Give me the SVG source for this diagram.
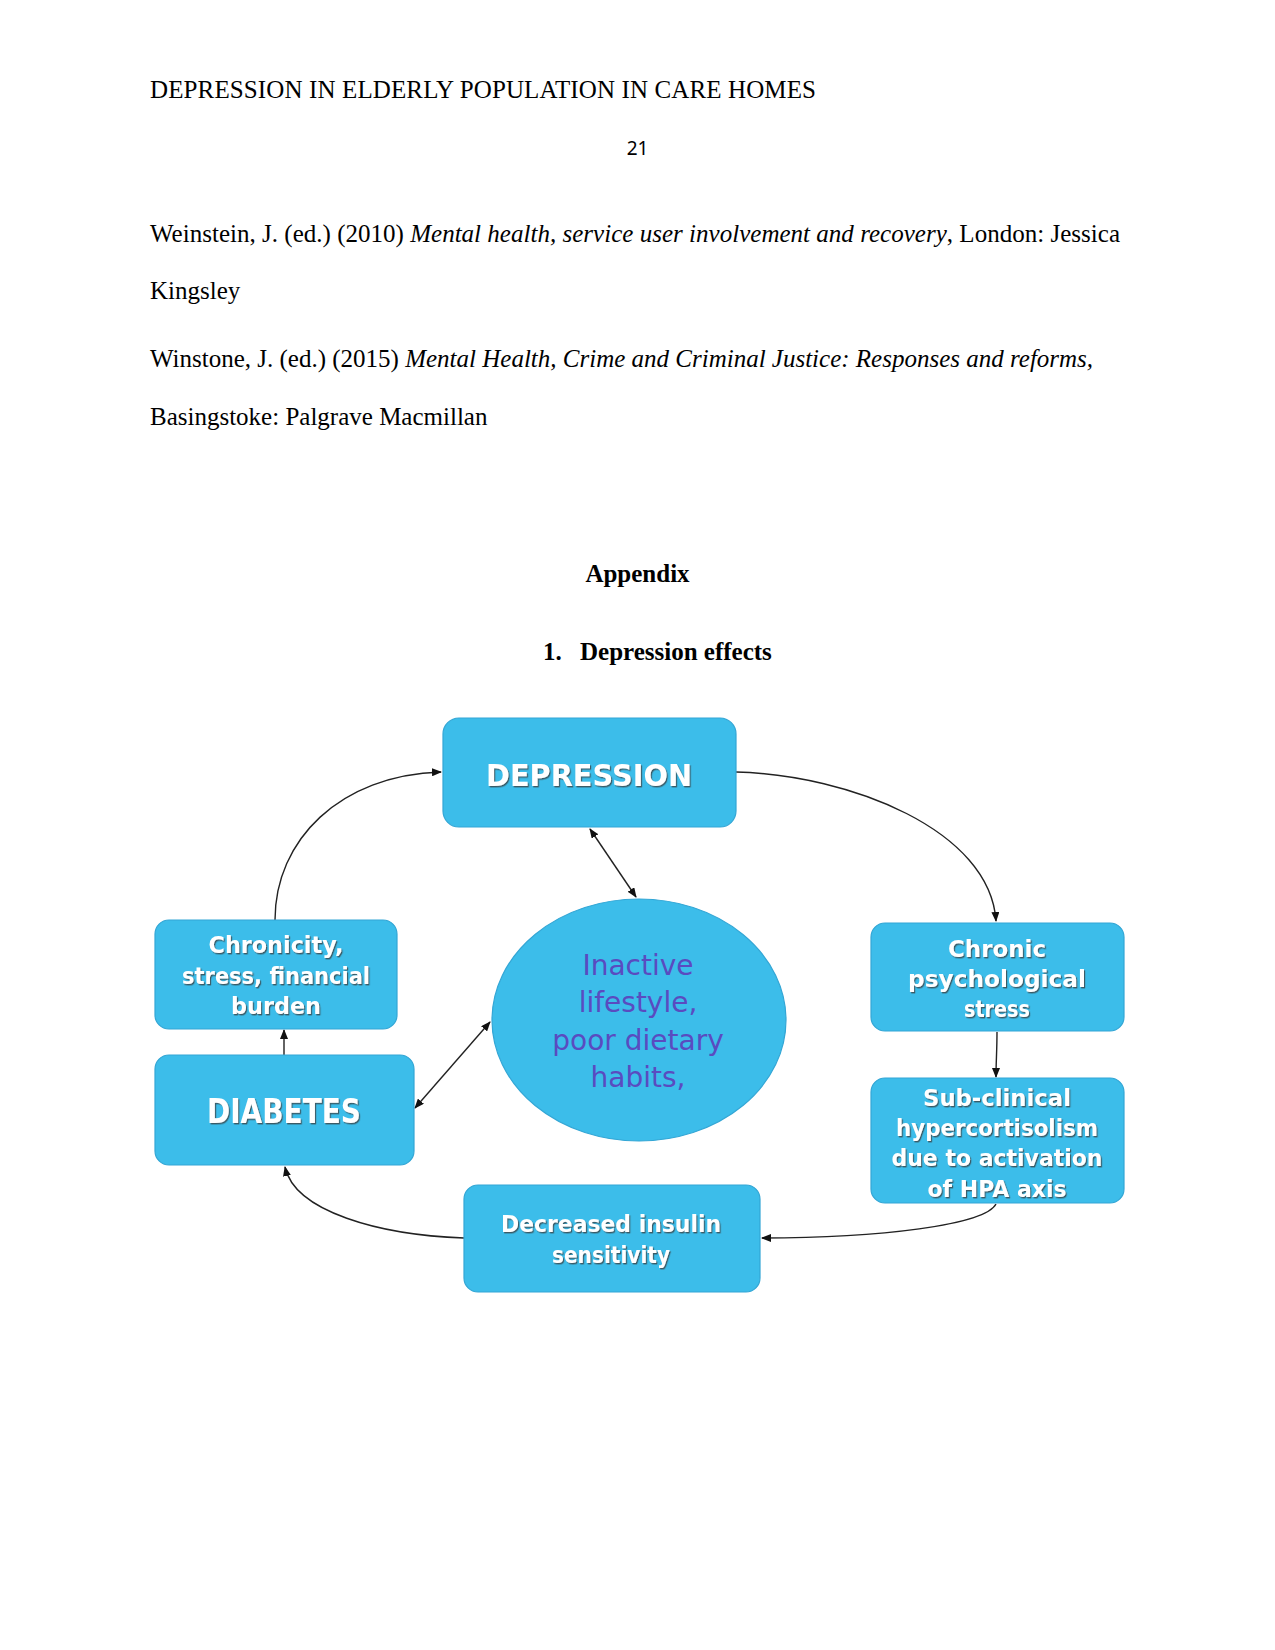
<svg xmlns="http://www.w3.org/2000/svg" width="1275" height="1650" viewBox="0 0 1275 1650">
<style>
.body{font-family:"Liberation Serif","Times New Roman",serif;font-size:25px;fill:#000}
.it{font-style:italic}
.hd{font-family:"Liberation Serif","Times New Roman",serif;font-size:25px;font-weight:bold;fill:#000}
.box{fill:#3CBDEA;stroke:#33A6D5;stroke-width:1.2}
.lbl{font-family:"DejaVu Sans","Liberation Sans",sans-serif;font-weight:bold;fill:#FFFFFF;text-anchor:middle;filter:url(#sh)}
.oval{font-family:"DejaVu Sans","Liberation Sans",sans-serif;font-size:28px;fill:#5A4BC0;text-anchor:middle}
.con{fill:none;stroke:#222;stroke-width:1.4}
</style>
<defs>
<filter id="sh" x="-10%" y="-30%" width="120%" height="160%">
<feDropShadow dx="1.2" dy="1.4" stdDeviation="0.6" flood-color="#3a3a3a" flood-opacity="0.75"/>
</filter>
<marker id="ah" markerUnits="userSpaceOnUse" markerWidth="10" markerHeight="8" refX="9" refY="4" orient="auto-start-reverse" viewBox="0 0 10 8">
<path d="M0,0 L10,4 L0,8 z" fill="#111"/>
</marker>
</defs>
<rect width="1275" height="1650" fill="#FFFFFF"/>

<g id="page-text">
<text class="body" x="150" y="98" textLength="666">DEPRESSION IN ELDERLY POPULATION IN CARE HOMES</text>
<text x="637.5" y="155" font-family="'Noto Sans','Open Sans',sans-serif" font-size="19" text-anchor="middle" fill="#000">21</text>
<text class="body" x="150" y="242" textLength="970">Weinstein, J. (ed.) (2010) <tspan class="it">Mental health, service user involvement and recovery</tspan>, London: Jessica</text>
<text class="body" x="150" y="299">Kingsley</text>
<text class="body" x="150" y="367">Winstone, J. (ed.) (2015) <tspan class="it">Mental Health, Crime and Criminal Justice: Responses and reforms,</tspan></text>
<text class="body" x="150" y="425">Basingstoke: Palgrave Macmillan</text>
<text class="hd" x="637.5" y="582" text-anchor="middle">Appendix</text>
<text class="hd" x="543" y="660">1.</text>
<text class="hd" x="580" y="660">Depression effects</text>
</g>

<g id="connectors">
<path class="con" d="M275,920 C275,840 340,775 441,772" marker-end="url(#ah)"/>
<path class="con" d="M736,772 C850,775 990,830 996,921" marker-end="url(#ah)"/>
<path class="con" d="M590,829 L636,897" marker-start="url(#ah)" marker-end="url(#ah)"/>
<path class="con" d="M997,1032 C997,1050 996,1062 996,1077" marker-end="url(#ah)"/>
<path class="con" d="M996,1204 C985,1225 880,1238 762,1238" marker-end="url(#ah)"/>
<path class="con" d="M464,1238 C380,1235 295,1212 285,1167" marker-end="url(#ah)"/>
<path class="con" d="M284,1055 L284,1030" marker-end="url(#ah)"/>
<path class="con" d="M415,1108 L490,1022" marker-start="url(#ah)" marker-end="url(#ah)"/>
</g>

<g id="node-depression">
<rect class="box" x="443" y="718" width="293" height="109" rx="16"/>
<text class="lbl" x="589" y="786" font-size="31" textLength="206" lengthAdjust="spacingAndGlyphs">DEPRESSION</text>
</g>

<g id="node-chronicity">
<rect class="box" x="155" y="920" width="242" height="109" rx="14"/>
<text class="lbl" x="276" y="953" font-size="23" textLength="135" lengthAdjust="spacingAndGlyphs">Chronicity,</text>
<text class="lbl" x="276" y="984" font-size="23" textLength="188" lengthAdjust="spacingAndGlyphs">stress, financial</text>
<text class="lbl" x="276" y="1014" font-size="23" textLength="90" lengthAdjust="spacingAndGlyphs">burden</text>
</g>

<g id="node-lifestyle">
<ellipse class="box" cx="639" cy="1020" rx="147" ry="121"/>
<text class="oval" x="638" y="975">Inactive</text>
<text class="oval" x="638" y="1012">lifestyle,</text>
<text class="oval" x="638" y="1050">poor dietary</text>
<text class="oval" x="638" y="1087">habits,</text>
</g>

<g id="node-chronic-stress">
<rect class="box" x="871" y="923" width="253" height="108" rx="14"/>
<text class="lbl" x="997" y="957" font-size="23" textLength="98" lengthAdjust="spacingAndGlyphs">Chronic</text>
<text class="lbl" x="997" y="987" font-size="23" textLength="178" lengthAdjust="spacingAndGlyphs">psychological</text>
<text class="lbl" x="997" y="1017" font-size="23" textLength="66" lengthAdjust="spacingAndGlyphs">stress</text>
</g>

<g id="node-diabetes">
<rect class="box" x="155" y="1055" width="259" height="110" rx="14"/>
<text class="lbl" x="284" y="1123" font-size="33" textLength="154" lengthAdjust="spacingAndGlyphs">DIABETES</text>
</g>

<g id="node-hypercortisolism">
<rect class="box" x="871" y="1078" width="253" height="125" rx="14"/>
<text class="lbl" x="997" y="1106" font-size="23" textLength="148" lengthAdjust="spacingAndGlyphs">Sub-clinical</text>
<text class="lbl" x="997" y="1136" font-size="23" textLength="202" lengthAdjust="spacingAndGlyphs">hypercortisolism</text>
<text class="lbl" x="997" y="1166" font-size="23" textLength="211" lengthAdjust="spacingAndGlyphs">due to activation</text>
<text class="lbl" x="997" y="1197" font-size="23" textLength="139" lengthAdjust="spacingAndGlyphs">of HPA axis</text>
</g>

<g id="node-insulin">
<rect class="box" x="464" y="1185" width="296" height="107" rx="14"/>
<text class="lbl" x="611" y="1232" font-size="23" textLength="220" lengthAdjust="spacingAndGlyphs">Decreased insulin</text>
<text class="lbl" x="611" y="1263" font-size="23" textLength="118" lengthAdjust="spacingAndGlyphs">sensitivity</text>
</g>
</svg>
